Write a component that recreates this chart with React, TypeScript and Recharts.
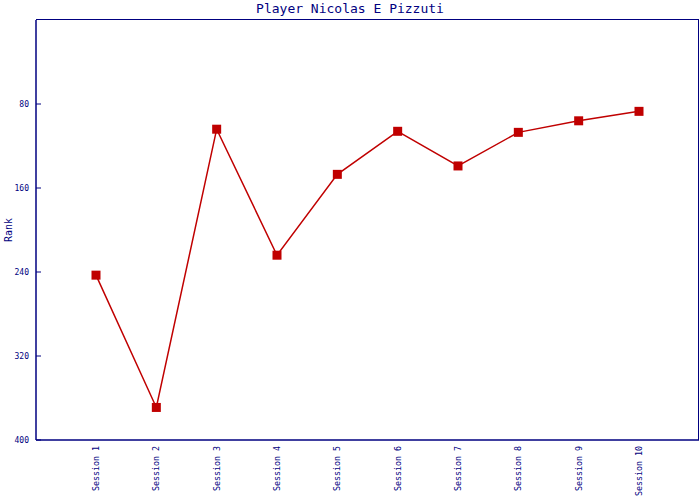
import { Line, LineChart, Label, XAxis, YAxis } from "recharts";

const sessions = [
  "Session 1",
  "Session 2",
  "Session 3",
  "Session 4",
  "Session 5",
  "Session 6",
  "Session 7",
  "Session 8",
  "Session 9",
  "Session 10"
];
const ranks = [243, 369, 104, 224, 147, 106, 139, 107, 96, 87];
const rankTicks = [80, 160, 240, 320, 400];

const data = sessions.map((s, i) => ({ session: s, rank: ranks[i] }));

const NAVY = "#000080";
const RED = "#c00000";
const FONT = "'DejaVu Sans Mono', monospace";

function SquareDot(props: any) {
  const { cx, cy, index } = props;
  return <rect key={`dot-${index}`} x={cx - 4.5} y={cy - 4.5} width={9} height={9} fill={RED} />;
}

function SessionTick(props: any) {
  const { x, y, payload } = props;
  return (
    <text
      x={x}
      y={y}
      transform={`rotate(-90 ${x} ${y})`}
      textAnchor="end"
      dominantBaseline="central"
      fontSize={8.3}
      fontFamily={FONT}
      fill={NAVY}
      dx={2}
    >
      {payload.value}
    </text>
  );
}

export default function App() {
  return (
    <div style={{ position: "absolute", left: 0, top: 0, width: 700, height: 500, background: "#fff" }}>
      <div
        style={{
          position: "absolute",
          top: 0,
          left: 0,
          width: 700,
          textAlign: "center",
          fontFamily: FONT,
          fontSize: 13,
          color: NAVY,
          lineHeight: "17px"
        }}
      >
        Player Nicolas E Pizzuti
      </div>
      {/* top and right edges of the plot frame */}
      <div
        style={{
          position: "absolute",
          left: 36,
          top: 19,
          width: 662,
          height: 420,
          borderTop: `1.5px solid ${NAVY}`,
          borderRight: `1.5px solid ${NAVY}`
        }}
      />
      <LineChart width={700} height={500} data={data} margin={{ top: 20, right: 1, bottom: 0, left: 0 }}>
        <XAxis
          dataKey="session"
          height={60}
          padding={{ left: 60, right: 60 }}
          interval={0}
          tickLine={false}
          axisLine={{ stroke: NAVY, strokeWidth: 1.5 }}
          tick={<SessionTick />}
        />
        <YAxis
          reversed
          domain={[0, 400]}
          ticks={rankTicks}
          width={36}
          tickSize={5}
          tickLine={{ stroke: NAVY, transform: "translate(5,0)" }}
          axisLine={{ stroke: NAVY, strokeWidth: 1.5 }}
          tick={{ fill: NAVY, fontSize: 8, fontFamily: FONT }}
        >
          <Label value="Rank" angle={-90} position="insideLeft" offset={0} dx={8} style={{ fill: NAVY, fontSize: 10, fontFamily: FONT, textAnchor: "middle" }} />
        </YAxis>
        <Line
          dataKey="rank"
          stroke={RED}
          strokeWidth={1.5}
          dot={<SquareDot />}
          activeDot={false}
          isAnimationActive={false}
        />
      </LineChart>
    </div>
  );
}
